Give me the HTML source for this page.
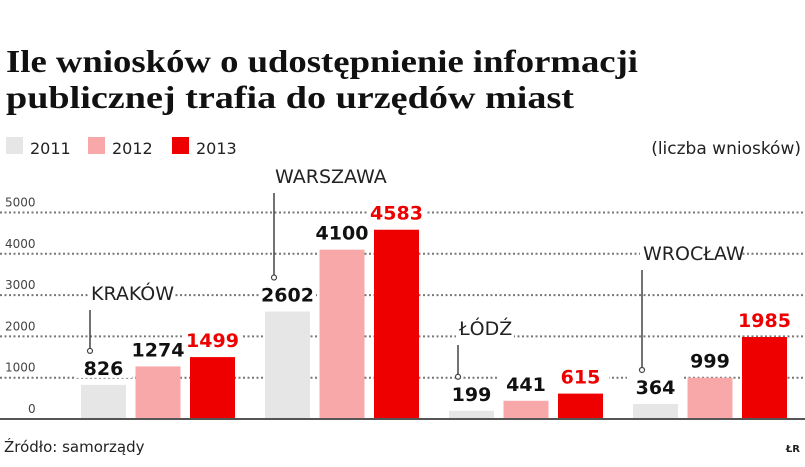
<!DOCTYPE html>
<html><head><meta charset="utf-8"><style>
body{margin:0;background:#fff;width:805px;height:467px;overflow:hidden}
svg{display:block;font-family:"DejaVu Sans","Liberation Sans",sans-serif}
</style></head><body>
<svg id="c" width="805" height="467">
<text x="6" y="72" font-family="Liberation Serif,serif" font-weight="bold" font-size="32" textLength="632" lengthAdjust="spacingAndGlyphs" fill="#111">Ile wniosków o udostępnienie informacji</text>
<text x="6" y="108" font-family="Liberation Serif,serif" font-weight="bold" font-size="32" textLength="568" lengthAdjust="spacingAndGlyphs" fill="#111">publicznej trafia do urzędów miast</text>
<g>
<rect x="6" y="137" width="17" height="17" fill="#e6e6e6"/><text x="30" y="154" font-size="16" fill="#222">2011</text>
<rect x="88" y="137" width="17" height="17" fill="#f8a8a8"/><text x="112" y="154" font-size="16" fill="#222">2012</text>
<rect x="172" y="137" width="17" height="17" fill="#ee0000"/><text x="196" y="154" font-size="16" fill="#222">2013</text>
</g>
<text x="801" y="154" text-anchor="end" font-size="17" fill="#222">(liczba wniosków)</text>
<g id="grid"></g><g id="marks"></g>
<line x1="0" y1="419" x2="805" y2="419" stroke="#555" stroke-width="2"/>
<text x="4" y="452" font-size="15" fill="#222">Źródło: samorządy</text>
<text x="800" y="452" text-anchor="end" font-size="10" font-weight="bold" fill="#222">ŁR</text>
</svg>
<script>
const cities=["KRAKÓW","WARSZAWA","ŁÓDŹ","WROCŁAW"];
const years=["2011","2012","2013"];
const v2011=[826,2602,199,364];
const v2012=[1274,4100,441,999];
const v2013=[1499,4583,615,1985];
const ticks=[0,1000,2000,3000,4000,5000];
const NS="http://www.w3.org/2000/svg";
const y0=419,pxPer=41.3/1000;
const Y=v=>y0-v*pxPer;
const X=(g,s)=>81+g*184+s*54.5;
const colors=["#e6e6e6","#f8a8a8","#ee0000"];
const series=[v2011,v2012,v2013];
function mk(t,a,p){const e=document.createElementNS(NS,t);for(const k in a)e.setAttribute(k,a[k]);p.appendChild(e);return e;}
const grid=document.getElementById('grid'),marks=document.getElementById('marks');
ticks.forEach(t=>{
  if(t>0){const l=mk('line',{x1:0,y1:Y(t),x2:805,y2:Y(t),stroke:'#777','stroke-width':2,'stroke-dasharray':'2 2.5'},grid);
  
  }
  const tx=mk('text',{x:t?5:28,y:Y(t)-6,'font-size':12,fill:'#444'},grid);tx.textContent=t;
  
  
});
const cityLabelY=[300,183,335,260];
cities.forEach((c,g)=>{
  series.forEach((s,i)=>{
    const x=X(g,i),w=45;
    const r=mk('rect',{x:x,y:Y(s[g]),width:w,height:y0-Y(s[g]),fill:colors[i]},marks);
    
    
    const bg=mk('rect',{x:x-6,y:Y(s[g])-29,width:w+12,height:22,fill:'#fff'},marks);
    
    
    const t=mk('text',{x:x+w/2,y:Y(s[g])-10,'text-anchor':'middle','font-size':19,'font-weight':'bold',fill:i==2?'#ee0000':'#111'},marks);
    t.textContent=s[g];
    
    
  });
  const lx=X(g,0)+11,ly=cityLabelY[g];
  const lb=mk('rect',{x:lx-4,y:ly-19,width:c.length*14.5,height:25,fill:'#fff'},marks);
  
  
  const ct=mk('text',{x:lx-1,y:ly,'font-size':19,fill:'#222'},marks);ct.textContent=c;
  
  
  const ly2=Y(series[0][g])-34;
  const ld=mk('line',{x1:lx-2,y1:ly+10,x2:lx-2,y2:ly2,stroke:'#444','stroke-width':1.5},marks);
  
  
  const dc=mk('circle',{cx:lx-2,cy:ly2,r:2.5,fill:'#fff',stroke:'#444','stroke-width':1.2},marks);
  
  
});
</script>
</body></html>
